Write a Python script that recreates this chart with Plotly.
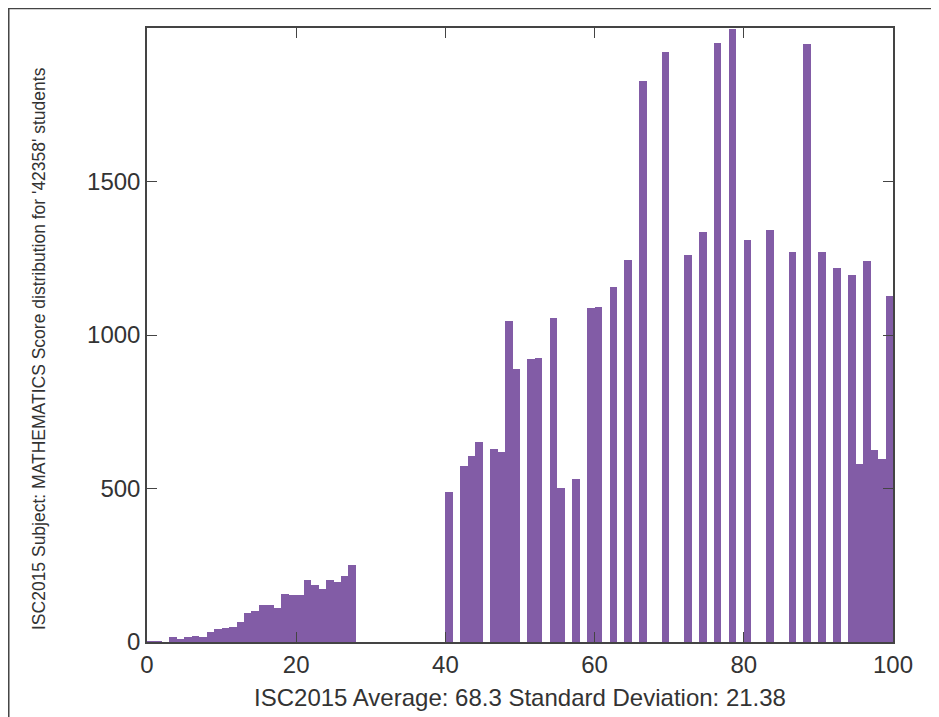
import plotly.graph_objects as go

# Score bins (left edge of each 1-point bin) and student counts
scores = [0, 1, 3, 4, 5, 6, 7, 8, 9, 10, 11, 12, 13, 14, 15, 16, 17, 18, 19, 20,
          21, 22, 23, 24, 25, 26, 27,
          40, 42, 43, 44, 46, 47, 48, 49, 51, 52, 54, 55, 57, 59, 60, 62,
          64, 66, 69, 72, 74, 76, 78, 80, 83, 86, 88, 90, 92, 94, 95, 96, 97, 98, 99]
counts = [3, 3, 16, 10, 16, 20, 16, 33, 42, 46, 49, 65, 94, 101, 120, 120, 111, 156, 153, 153,
          202, 186, 173, 202, 195, 215, 251,
          488, 573, 605, 651, 628, 618, 1045, 888, 921, 924, 1054, 501, 530, 1087, 1090, 1157,
          1243, 1826, 1923, 1259, 1334, 1952, 1998, 1311, 1341, 1272, 1949, 1272, 1217, 1197,
          580, 1240, 625, 596, 1126]

x_ticks = [0, 20, 40, 60, 80, 100]
y_ticks = [0, 500, 1000, 1500]

x_title = "ISC2015 Average: 68.3 Standard Deviation: 21.38"
y_title = "ISC2015 Subject: MATHEMATICS Score distribution for '42358' students"

FONT = "Liberation Sans, Arial, sans-serif"
BAR = "#825ca6"
AX = "#444444"
TXT = "#333333"

fig = go.Figure(go.Bar(
    x=scores, y=counts, width=1, offset=0,
    marker=dict(color=BAR, line=dict(width=0)),
    hoverinfo="x+y",
))

fig.update_layout(
    width=939, height=717,
    margin=dict(l=139, r=54, t=20, b=83),
    paper_bgcolor="white", plot_bgcolor="white",
    showlegend=False, bargap=0,
    font=dict(family=FONT, color=TXT),
    xaxis=dict(
        range=[0, 100], tickvals=x_ticks, ticks="inside", ticklen=10, tickcolor=AX,
        showline=True, linecolor=AX, linewidth=1.5, mirror="ticks",
        showgrid=False, zeroline=False,
        tickfont=dict(size=24, color=TXT),
        title=dict(text=x_title, font=dict(size=24, color=TXT), standoff=13),
    ),
    yaxis=dict(
        range=[0, 2000], tickvals=y_ticks, ticks="inside", ticklen=10, tickcolor=AX,
        showline=True, linecolor=AX, linewidth=1.5, mirror="ticks",
        showgrid=False, zeroline=False,
        tickfont=dict(size=24, color=TXT),
    ),
    annotations=[dict(text=y_title, textangle=-90, xref="paper", yref="paper",
                      x=-0.1448, y=0.4788, xanchor="center", yanchor="middle",
                      showarrow=False, font=dict(size=17.5, color=TXT))],
    shapes=[dict(type="rect", xref="paper", yref="paper",
                 x0=-0.1853, x1=1.09, y0=-0.16, y1=1.0318,
                 line=dict(color=AX, width=1.5), layer="below")],
)

fig.write_html("out.html")
